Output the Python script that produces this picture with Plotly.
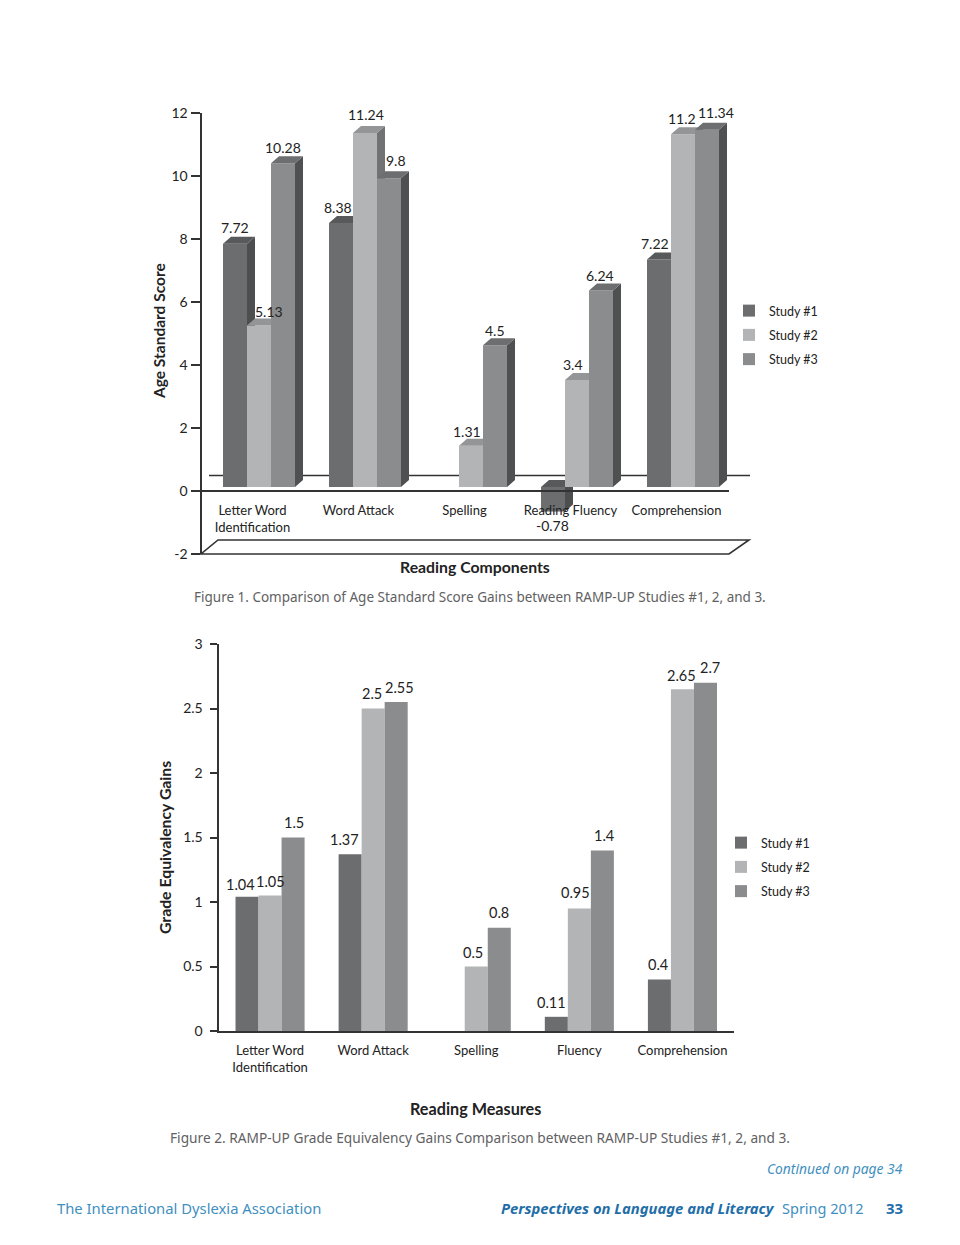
import plotly.graph_objects as go

# ---------- data ----------
studies = ["Study #1", "Study #2", "Study #3"]
fig1_categories = ["Letter Word<br>Identification", "Word Attack", "Spelling", "Reading Fluency", "Comprehension"]
fig1_study1 = [7.72, 8.38, None, -0.78, 7.22]
fig1_study2 = [5.13, 11.24, 1.31, 3.4, 11.2]
fig1_study3 = [10.28, 9.8, 4.5, 6.24, 11.34]
fig2_categories = ["Letter Word<br>Identification", "Word Attack", "Spelling", "Fluency", "Comprehension"]
fig2_study1 = [1.04, 1.37, None, 0.11, 0.4]
fig2_study2 = [1.05, 2.5, 0.5, 0.95, 2.65]
fig2_study3 = [1.5, 2.55, 0.8, 1.4, 2.7]
fig1_ticks = [-2, 0, 2, 4, 6, 8, 10, 12]
fig2_ticks = [0, 0.5, 1, 1.5, 2, 2.5, 3]
fig2_ticktext = ["0", "0.5", "1", "1.5", "2", "2.5", "3"]

# ---------- style / layout ----------
W, H = 960, 1245
FONT = "Lato"
CAP_FONT = "Noto Sans"
INK = "#222222"
LINE = "#333333"
FRONT = ["#6b6d6f", "#b2b4b6", "#8a8c8e"]
SIDE = ["#4c4e50", "#707274", "#4e5052"]
TOP = ["#58595b", "#939597", "#6c6e70"]

# pixel geometry of the two plots
P1 = dict(l=201.5, r=729, t=113, b=554)
P2 = dict(l=218.5, r=734, t=644, b=1031)
PX_X1, PX_Y1 = 106.0, 31.5        # px per data unit, figure 1
ZERO_X1, ZERO_Y1 = 252.5, 491.0   # px of first tick, px of value 0
BAR_PX, LIFT_PX, GROUP_SHIFT_PX = 24.0, 4.0, 6.5
DEPTH_X, DEPTH_Y = 8.0, 7.0

# label nudges in pixels (x, y-up) relative to each bar's centre and value
NUDGE1 = [
    [(0, 20), (-3, 20), None, (-1, -10), (-4, 20)],
    [(10, 18), (1, 22), (-4, 18), (-4, 19), (-1, 20)],
    [(0, 20), (7, 22), (0, 19), (-1, 19), (9, 21)],
]
NUDGE2 = [
    [(-6.6, 12), (-5.8, 15), None, (-5, 14), (-1.4, 15)],
    [(0.4, 14.5), (-0.8, 15.5), (-3, 14.5), (-4, 15.5), (-1.4, 14)],
    [(1.4, 15.5), (3.2, 15), (0, 15), (2, 15), (4.6, 15)],
]


def px(x):
    return x / W


def py(y):
    return 1 - y / H


fig = go.Figure()
annotations = []
fig1_series = [fig1_study1, fig1_study2, fig1_study3]
fig2_series = [fig2_study1, fig2_study2, fig2_study3]
bar_w = BAR_PX / PX_X1
shift = GROUP_SHIFT_PX / PX_X1
lift = LIFT_PX / PX_Y1
dx, dy = DEPTH_X / PX_X1, DEPTH_Y / PX_Y1

# Figure 1: a pseudo-3D bar per study, each study on its own overlaid axes for paint order
for s, (name, vals) in enumerate(zip(studies, fig1_series)):
    xa = "x" if s == 0 else f"x{s + 1}"
    ya = "y" if s == 0 else f"y{s + 1}"
    centers = [i + shift + (s - 1) * bar_w for i in range(len(vals))]
    fig.add_trace(go.Bar(
        x=centers, y=vals, base=lift, width=bar_w, name=name,
        marker=dict(color=FRONT[s], line=dict(width=0)),
        xaxis=xa, yaxis=ya, legend="legend", legendgroup=f"a{s}",
    ))
    side_x, side_y, top_x, top_y = [], [], [], []
    for c, v in zip(centers, vals):
        if v is None:
            continue
        left, right = c - bar_w / 2, c + bar_w / 2
        hi, lo = max(v, 0) + lift, min(v, 0) + lift
        side_x += [right, right + dx, right + dx, right, right, None]
        side_y += [lo, lo + dy, hi + dy, hi, lo, None]
        top_x += [left, left + dx, right + dx, right, left, None]
        top_y += [hi, hi + dy, hi + dy, hi, hi, None]
    for xs, ys, col in ((side_x, side_y, SIDE[s]), (top_x, top_y, TOP[s])):
        fig.add_trace(go.Scatter(
            x=xs, y=ys, mode="lines", fill="toself", fillcolor=col,
            line=dict(width=0, color=col), hoverinfo="skip", showlegend=False,
            xaxis=xa, yaxis=ya,
        ))
    for c, v, n in zip(centers, vals, NUDGE1[s]):
        if v is not None:
            annotations.append(dict(
                x=c, y=v, xref="x", yref="y", text=f"{v:g}", showarrow=False,
                xshift=n[0], yshift=n[1], font=dict(size=14, family=FONT, color=INK),
            ))

# Figure 2: flat grouped bars
for s, (name, vals) in enumerate(zip(studies, fig2_series)):
    fig.add_trace(go.Bar(
        x=fig2_categories, y=vals, name=name, width=None,
        marker=dict(color=FRONT[s], line=dict(width=0)),
        xaxis="x4", yaxis="y4", legend="legend2", legendgroup=f"b{s}", offsetgroup=str(s),
    ))
    for i, (v, n) in enumerate(zip(vals, NUDGE2[s])):
        if v is not None:
            annotations.append(dict(
                x=i, y=v, xref="x4", yref="y4", text=f"{v:g}", showarrow=False,
                xshift=(s - 1) * 23 + n[0], yshift=n[1],
                font=dict(size=14.5, family=FONT, color=INK),
            ))


def note(x, y, text, size, color=INK, family=FONT, angle=0, anchor="center"):
    annotations.append(dict(
        x=px(x), y=py(y), xref="paper", yref="paper", text=text, showarrow=False,
        textangle=angle, xanchor=anchor, yanchor="middle",
        font=dict(size=size, color=color, family=family),
    ))


note(159, 331, "<b>Age Standard Score</b>", 15.5, angle=-90)
note(475, 566, "<b>Reading Components</b>", 15.8)
note(164, 848, "<b>Grade Equivalency Gains</b>", 15.8, angle=-90)
note(475, 1108, "<b>Reading Measures</b>", 16.2)
CAP = "#5f6163"
BLUE = "#3f8fc0"
DBLUE = "#1f6ea8"
note(480, 596.5, "Figure 1. Comparison of Age Standard Score Gains between RAMP-UP Studies #1, 2, and 3.", 13.5, CAP, CAP_FONT)
note(480, 1137, "Figure 2. RAMP-UP Grade Equivalency Gains Comparison between RAMP-UP Studies #1, 2, and 3.", 13.7, CAP, CAP_FONT)
note(905, 1168, "<i>Continued on page 34</i>", 13.8, BLUE, CAP_FONT, anchor="right")
note(55, 1208, "The International Dyslexia Association", 14.8, BLUE, CAP_FONT, anchor="left")
note(499, 1208, "<b><i>Perspectives on Language and Literacy</i></b>", 14.8, DBLUE, CAP_FONT, anchor="left")
note(780, 1208, "Spring 2012", 14.5, BLUE, CAP_FONT, anchor="left")
note(905, 1208, "<b>33</b>", 15, DBLUE, CAP_FONT, anchor="right")

# floor and back edge of figure 1
shapes = [
    dict(type="line", xref="paper", yref="paper", layer="below",
         x0=px(209), x1=px(750), y0=py(475.5), y1=py(475.5), line=dict(color=LINE, width=1.6)),
    dict(type="path", xref="paper", yref="paper", layer="below",
         path=f"M{px(201)},{py(554)} L{px(729)},{py(554)} L{px(749)},{py(540)} L{px(218)},{py(540)} Z",
         line=dict(color=LINE, width=1.6)),
]

x_range = [(P1["l"] - ZERO_X1) / PX_X1, (P1["r"] - ZERO_X1) / PX_X1]
y_range = [(ZERO_Y1 - P1["b"]) / PX_Y1, (ZERO_Y1 - P1["t"]) / PX_Y1]
dom_x1 = [px(P1["l"]), px(P1["r"])]
dom_y1 = [py(P1["b"]), py(P1["t"])]
tick_font = dict(size=14, family=FONT, color=INK)
hidden = dict(visible=False, fixedrange=True)

layout_axes = dict(
    xaxis=dict(domain=dom_x1, range=x_range, anchor="free", position=py(ZERO_Y1), automargin=False,
               tickmode="array", tickvals=list(range(5)), ticktext=fig1_categories,
               showline=True, linecolor=LINE, linewidth=2, ticks="", showgrid=False, zeroline=False,
               tickfont=dict(size=13, family=FONT, color=INK), ticklabelstandoff=7),
    yaxis=dict(domain=dom_y1, range=y_range, anchor="x", tickmode="array", tickvals=fig1_ticks,
               ticktext=[str(t) for t in fig1_ticks], automargin=False,
               showline=True, linecolor=LINE, linewidth=2, ticks="outside", ticklen=9, tickwidth=1.6,
               tickcolor=LINE, showgrid=False, zeroline=False, tickfont=tick_font),
    xaxis2=dict(domain=dom_x1, range=x_range, overlaying="x", anchor="y2", **hidden),
    yaxis2=dict(domain=dom_y1, range=y_range, overlaying="y", anchor="x2", **hidden),
    xaxis3=dict(domain=dom_x1, range=x_range, overlaying="x", anchor="y3", **hidden),
    yaxis3=dict(domain=dom_y1, range=y_range, overlaying="y", anchor="x3", **hidden),
    xaxis4=dict(domain=[px(P2["l"]), px(P2["r"])], anchor="y4", categoryorder="array", automargin=False,
                categoryarray=fig2_categories, showline=True, linecolor=LINE, linewidth=2, ticks="",
                showgrid=False, zeroline=False,
                tickfont=dict(size=13, family=FONT, color=INK), ticklabelstandoff=6),
    yaxis4=dict(domain=[py(P2["b"]), py(P2["t"])], range=[0, 3], anchor="x4", tickmode="array",
                tickvals=fig2_ticks, ticktext=fig2_ticktext, automargin=False, ticklabelstandoff=4,
                showline=True, linecolor=LINE, linewidth=2, ticks="outside", ticklen=7, tickwidth=1.6,
                tickcolor=LINE, showgrid=False, zeroline=False, tickfont=tick_font),
)

legend_style = dict(
    bgcolor="rgba(0,0,0,0)", borderwidth=0, tracegroupgap=5, xanchor="left", yanchor="top",
    font=dict(size=12.5, family=FONT, color=INK), traceorder="grouped",
)

fig.update_layout(
    width=W, height=H, margin=dict(l=0, r=0, t=0, b=0), autosize=False,
    paper_bgcolor="white", plot_bgcolor="rgba(0,0,0,0)",
    barmode="group", bargap=0.33, bargroupgap=0,
    annotations=annotations, shapes=shapes,
    legend=dict(x=px(729), y=py(296), **legend_style),
    legend2=dict(x=px(721), y=py(828), **legend_style),
    **layout_axes,
)

fig.write_html("out.html", config=dict(displayModeBar=False), post_script="document.body.style.margin='0';")
